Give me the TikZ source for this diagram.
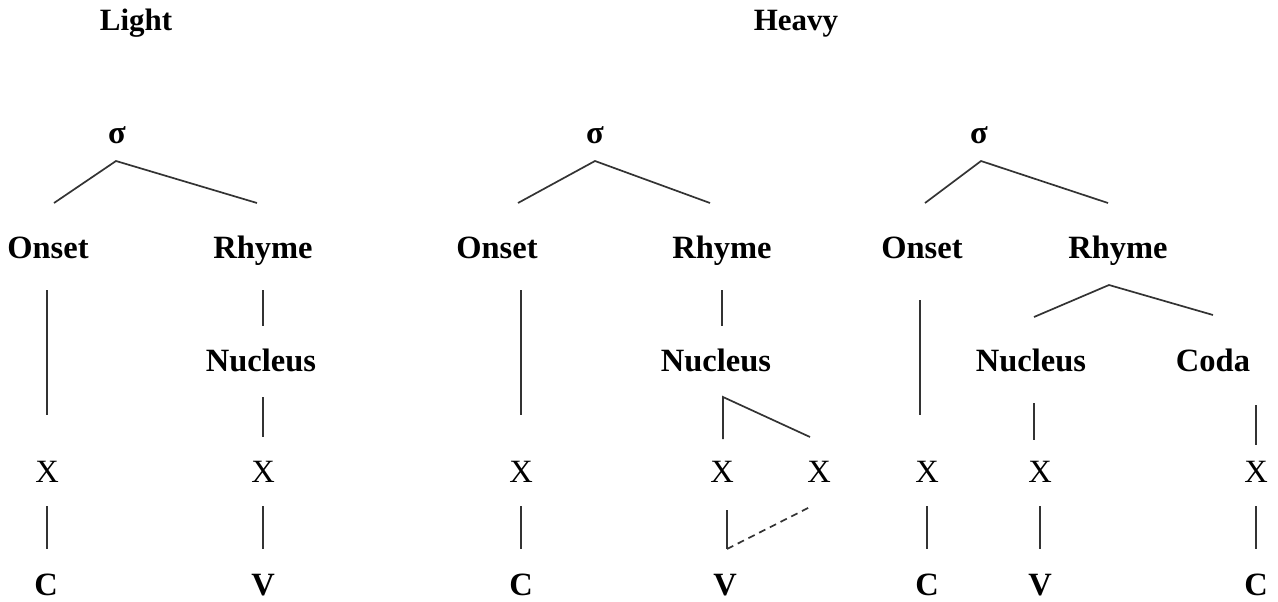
\documentclass[tikz,border=0pt]{standalone}
\usepackage{fontspec}
\setmainfont{Liberation Serif}
\begin{document}
\begin{tikzpicture}[x=1pt,y=-1pt,
  ttl/.style={inner sep=0pt, anchor=base, font=\fontsize{31}{36}\selectfont\bfseries},
  lbl/.style={inner sep=0pt, anchor=base, font=\fontsize{32.5}{38}\selectfont\bfseries},
  seg/.style={inner sep=0pt, anchor=base, font=\fontsize{32.5}{38}\selectfont},
  br/.style={line width=1.7pt, draw=black!80},
  dsh/.style={line width=1.7pt, draw=black!80, dashed, dash pattern=on 7pt off 5pt}]
\useasboundingbox (0,0) rectangle (1278,602);
% titles
\node[ttl] (tl) at (136,31) {Light};
\node[ttl] (th) at (796,31) {Heavy};
% ---------------- tree 1
\node[lbl] (s1) at (117,143) {σ};
\node[lbl] (o1) at (48,258) {Onset};
\node[lbl] (r1) at (263,258) {Rhyme};
\node[lbl] (n1) at (261,371) {Nucleus};
\node[seg] (xa1) at (47,482) {X};
\node[seg] (xb1) at (263,482) {X};
\node[lbl] (c1) at (46,595) {C};
\node[lbl] (v1) at (263,595) {V};
\coordinate (s1a) at (116,161);
\coordinate (s1l) at (54,203);
\coordinate (s1r) at (257,203);
\draw[br] (s1l) -- (s1a) -- (s1r);
\coordinate (o1t) at (47,290); \coordinate (o1b) at (47,415);
\draw[br] (o1t) -- (o1b);
\coordinate (r1t) at (263,290); \coordinate (r1b) at (263,326);
\draw[br] (r1t) -- (r1b);
\coordinate (n1t) at (263,397); \coordinate (n1b) at (263,437);
\draw[br] (n1t) -- (n1b);
\coordinate (xa1t) at (47,506); \coordinate (xa1b) at (47,549);
\draw[br] (xa1t) -- (xa1b);
\coordinate (xb1t) at (263,506); \coordinate (xb1b) at (263,549);
\draw[br] (xb1t) -- (xb1b);
% ---------------- tree 2
\node[lbl] (s2) at (595,143) {σ};
\node[lbl] (o2) at (497,258) {Onset};
\node[lbl] (r2) at (722,258) {Rhyme};
\node[lbl] (n2) at (716,371) {Nucleus};
\node[seg] (xa2) at (521,482) {X};
\node[seg] (xb2) at (722,482) {X};
\node[seg] (xc2) at (819,482) {X};
\node[lbl] (c2) at (521,595) {C};
\node[lbl] (v2) at (725,595) {V};
\coordinate (s2a) at (595,161);
\coordinate (s2l) at (518,203);
\coordinate (s2r) at (710,203);
\draw[br] (s2l) -- (s2a) -- (s2r);
\coordinate (o2t) at (521,290); \coordinate (o2b) at (521,415);
\draw[br] (o2t) -- (o2b);
\coordinate (r2t) at (722,290); \coordinate (r2b) at (722,326);
\draw[br] (r2t) -- (r2b);
\coordinate (n2a) at (723,397);
\coordinate (n2l) at (723,439);
\coordinate (n2r) at (810,437);
\draw[br] (n2l) -- (n2a) -- (n2r);
\coordinate (xa2t) at (521,506); \coordinate (xa2b) at (521,549);
\draw[br] (xa2t) -- (xa2b);
\coordinate (xb2t) at (727,510); \coordinate (vj) at (727,549);
\coordinate (xc2b) at (810,507);
\draw[br] (xb2t) -- (vj);
\draw[dsh] (vj) -- (xc2b);
% ---------------- tree 3
\node[lbl] (s3) at (979,143) {σ};
\node[lbl] (o3) at (922,258) {Onset};
\node[lbl] (r3) at (1118,258) {Rhyme};
\node[lbl] (n3) at (1031,371) {Nucleus};
\node[lbl] (cd3) at (1213,371) {Coda};
\node[seg] (xa3) at (927,482) {X};
\node[seg] (xb3) at (1040,482) {X};
\node[seg] (xc3) at (1256,482) {X};
\node[lbl] (c3) at (927,595) {C};
\node[lbl] (v3) at (1040,595) {V};
\node[lbl] (cc3) at (1256,595) {C};
\coordinate (s3a) at (981,161);
\coordinate (s3l) at (925,203);
\coordinate (s3r) at (1108,203);
\draw[br] (s3l) -- (s3a) -- (s3r);
\coordinate (r3a) at (1109,285);
\coordinate (r3l) at (1034,317);
\coordinate (r3r) at (1213,315);
\draw[br] (r3l) -- (r3a) -- (r3r);
\coordinate (o3t) at (920,300); \coordinate (o3b) at (920,415);
\draw[br] (o3t) -- (o3b);
\coordinate (n3t) at (1034,403); \coordinate (n3b) at (1034,440);
\draw[br] (n3t) -- (n3b);
\coordinate (cd3t) at (1256,405); \coordinate (cd3b) at (1256,445);
\draw[br] (cd3t) -- (cd3b);
\coordinate (xa3t) at (927,506); \coordinate (xa3b) at (927,549);
\draw[br] (xa3t) -- (xa3b);
\coordinate (xb3t) at (1040,506); \coordinate (xb3b) at (1040,549);
\draw[br] (xb3t) -- (xb3b);
\coordinate (xc3t) at (1256,506); \coordinate (xc3b) at (1256,549);
\draw[br] (xc3t) -- (xc3b);
\end{tikzpicture}
\end{document}
